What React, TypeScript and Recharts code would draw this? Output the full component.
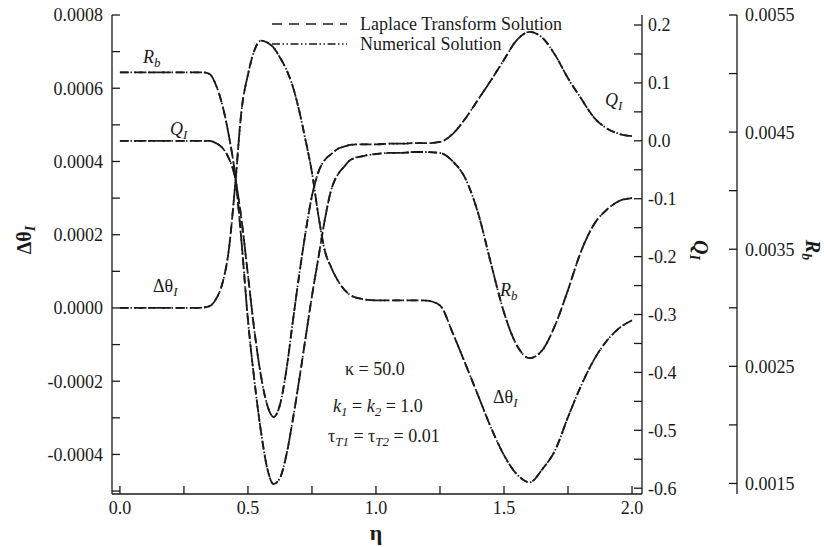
import { LineChart, Line, XAxis, YAxis } from 'recharts';

// eta grid (shared by all curves)
const eta = [
  0, 0.1, 0.2, 0.3, 0.325, 0.35, 0.375, 0.4, 0.425, 0.45, 0.475, 0.5, 0.525, 0.55, 0.575, 0.6,
  0.625, 0.65, 0.675, 0.7, 0.725, 0.75, 0.775, 0.8, 0.825, 0.85, 0.875, 0.9, 0.95, 1.0, 1.05,
  1.1, 1.15, 1.2, 1.25, 1.3, 1.35, 1.4, 1.45, 1.5, 1.55, 1.6, 1.65, 1.7, 1.75, 1.8, 1.85, 1.9,
  1.95, 2.0,
];

// Δθ_I (left axis)
const deltaTheta = [
  0, 0, 0, 0, 0.000001, 0.000005, 0.000024, 0.000067, 0.000157, 0.000335, 0.00054, 0.000637,
  0.000703, 0.00073, 0.000725, 0.000711, 0.000684, 0.000651, 0.000605, 0.000539, 0.000458,
  0.00037, 0.000253, 0.000157, 0.000111, 0.000076, 0.000051, 0.000035, 0.000024, 0.000021,
  0.000021, 0.000021, 0.000021, 0.00002, 0.000007, -0.000069, -0.000154, -0.000241, -0.000328,
  -0.000402, -0.000454, -0.000476, -0.00044, -0.000388, -0.000298, -0.000214, -0.000143,
  -0.000091, -0.000055, -0.000034,
];

// Q_I (first right axis)
const heatFlux = [
  0, 0, 0, 0, 0, 0, -0.004, -0.012, -0.03, -0.064, -0.137, -0.232, -0.327, -0.404, -0.456,
  -0.477, -0.456, -0.396, -0.313, -0.232, -0.158, -0.095, -0.054, -0.033, -0.023, -0.014, -0.01,
  -0.007, -0.006, -0.006, -0.005, -0.005, -0.004, -0.004, -0.002, 0.012, 0.039, 0.072, 0.105,
  0.14, 0.174, 0.188, 0.178, 0.148, 0.108, 0.074, 0.041, 0.022, 0.012, 0.008,
];

// R_b (second right axis)
const rBond = [
  0.00501, 0.00501, 0.00501, 0.00501, 0.00501, 0.004996, 0.004902, 0.004731, 0.004475, 0.00413,
  0.00356, 0.002896, 0.002383, 0.001956, 0.001632, 0.001495, 0.001546, 0.001743, 0.002042,
  0.002383, 0.002742, 0.003101, 0.003425, 0.00375, 0.004006, 0.004134, 0.004202, 0.004262,
  0.004296, 0.004313, 0.004322, 0.004322, 0.00433, 0.00433, 0.004322, 0.00425, 0.0041, 0.0038,
  0.00337, 0.00296, 0.00268, 0.00257, 0.002639, 0.002853, 0.003152, 0.003476, 0.003707, 0.003835,
  0.003912, 0.003937,
];

const etaMajor = [0, 0.5, 1.0, 1.5, 2.0];
const etaMinor = [0.25, 0.75, 1.25, 1.75];
const dtMajor = [-0.0004, -0.0002, 0, 0.0002, 0.0004, 0.0006, 0.0008];
const dtMinor = [-0.0005, -0.0003, -0.0001, 0.0001, 0.0003, 0.0005, 0.0007];
const qMajor = [-0.6, -0.5, -0.4, -0.3, -0.2, -0.1, 0, 0.1, 0.2];
const qMinor = [-0.55, -0.45, -0.35, -0.25, -0.15, -0.05, 0.05, 0.15];
const rbMajor = [0.0015, 0.0025, 0.0035, 0.0045, 0.0055];
const rbMinor = [0.002, 0.003, 0.004, 0.005];

const data = eta.map((e, i) => ({
  eta: e,
  dt: deltaTheta[i],
  q: heatFlux[i],
  rb: rBond[i],
}));

const FONT = '"Liberation Serif", "DejaVu Serif", serif';
const INK = '#1a1a1a';
const FS = 18;
const DASHED = '9 5';
const DASH_DOT_DOT = '8 2.5 1.5 2.5 1.5 2.5';

const makeTick = (majors: number[], digits: number, anchor: string, dy: string) => (props: any) => {
  const { x, y, payload } = props;
  const isMajor = majors.some((m) => Math.abs(m - payload.value) < 1e-9);
  if (!isMajor) return <g />;
  return (
    <text x={x} y={y} dy={dy} textAnchor={anchor} fontFamily={FONT} fontSize={FS} fill={INK}>
      {Number(payload.value).toFixed(digits)}
    </text>
  );
};

const Sub = ({ children }: { children: string }) => (
  <>
    <tspan dy={4} fontSize={13} fontStyle="italic">{children}</tspan>
    <tspan dy={-4}> </tspan>
  </>
);

function Overlay() {
  return (
    <svg
      width={824}
      height={547}
      style={{ position: 'absolute', left: 0, top: 0, pointerEvents: 'none' }}
      fontFamily={FONT}
      fill={INK}
    >
      {/* legend */}
      <line x1={272} y1={24} x2={347} y2={24} stroke={INK} strokeWidth={1.4} strokeDasharray="10 7" />
      <line x1={272} y1={44} x2={347} y2={44} stroke={INK} strokeWidth={1.4} strokeDasharray={DASH_DOT_DOT} />
      <text x={360} y={30} fontSize={FS}>Laplace Transform Solution</text>
      <text x={360} y={50} fontSize={FS}>Numerical Solution</text>

      {/* curve labels */}
      <text x={143} y={63} fontSize={FS} fontStyle="italic">R<Sub>b</Sub></text>
      <text x={170} y={135} fontSize={FS} fontStyle="italic">Q<Sub>I</Sub></text>
      <text x={153} y={292} fontSize={FS}>Δθ<Sub>I</Sub></text>
      <text x={500} y={296} fontSize={FS} fontStyle="italic">R<Sub>b</Sub></text>
      <text x={493} y={403} fontSize={FS}>Δθ<Sub>I</Sub></text>
      <text x={605} y={106} fontSize={FS} fontStyle="italic">Q<Sub>I</Sub></text>

      {/* parameters */}
      <text x={345} y={375} fontSize={FS}>κ = 50.0</text>
      <text x={333} y={412} fontSize={FS}>
        <tspan fontStyle="italic">k</tspan><Sub>1</Sub>= <tspan fontStyle="italic">k</tspan><Sub>2</Sub>= 1.0
      </text>
      <text x={328} y={442} fontSize={FS}>
        τ<Sub>T1</Sub>= τ<Sub>T2</Sub>= 0.01
      </text>

      {/* axis titles */}
      <text transform="translate(31,240) rotate(-90)" textAnchor="middle" fontSize={20} fontWeight="bold">
        Δθ<tspan dy={4} fontSize={14} fontStyle="italic">I</tspan>
      </text>
      <text x={376} y={540} textAnchor="middle" fontSize={22} fontWeight="bold">η</text>
      <text transform="translate(694,250) rotate(90)" textAnchor="middle" fontSize={20} fontWeight="bold" fontStyle="italic">
        Q<tspan dy={4} fontSize={14}>I</tspan>
      </text>
      <text transform="translate(806,250) rotate(90)" textAnchor="middle" fontSize={20} fontWeight="bold" fontStyle="italic">
        R<tspan dy={4} fontSize={14}>b</tspan>
      </text>
    </svg>
  );
}

export default function App() {
  const series = [
    { id: 'dt', key: 'dt' },
    { id: 'q', key: 'q' },
    { id: 'rb', key: 'rb' },
  ];
  return (
    <div style={{ position: 'absolute', left: 0, top: 0, width: 824, height: 547, background: '#fff' }}>
      <LineChart width={824} height={547} data={data} margin={{ top: 15, right: 0, bottom: 13, left: 0 }}>
        <XAxis
          dataKey="eta"
          type="number"
          domain={[-0.031, 2.039]}
          allowDataOverflow
          ticks={[...etaMajor, ...etaMinor]}
          interval={0}
          height={40}
          tickSize={-8}
          tickMargin={15}
          tick={makeTick(etaMajor, 1, 'middle', '0.71em')}
          stroke={INK}
          strokeWidth={1.3}
        />
        <XAxis
          xAxisId="top"
          orientation="top"
          type="number"
          domain={[-0.031, 2.039]}
          height={0}
          tick={false}
          tickLine={false}
          stroke={INK}
          strokeWidth={1.3}
        />
        <YAxis
          yAxisId="dt"
          orientation="left"
          type="number"
          width={112}
          domain={[-0.000508, 0.0008]}
          allowDataOverflow
          ticks={[...dtMajor, ...dtMinor]}
          interval={0}
          tickSize={-8}
          tickMargin={17}
          tick={makeTick(dtMajor, 4, 'end', '0.355em')}
          stroke={INK}
          strokeWidth={1.3}
        />
        <YAxis
          yAxisId="q"
          orientation="right"
          type="number"
          width={95}
          domain={[-0.61, 0.2173]}
          allowDataOverflow
          ticks={[...qMajor, ...qMinor]}
          interval={0}
          tickSize={-8}
          tickMargin={14}
          tick={makeTick(qMajor, 1, 'start', '0.355em')}
          stroke={INK}
          strokeWidth={1.3}
        />
        <YAxis
          yAxisId="rb"
          orientation="right"
          type="number"
          width={87}
          domain={[0.00141, 0.0055]}
          allowDataOverflow
          ticks={[...rbMajor, ...rbMinor]}
          interval={0}
          tickSize={-8}
          tickMargin={16}
          tick={makeTick(rbMajor, 4, 'start', '0.355em')}
          stroke={INK}
          strokeWidth={1.3}
        />
        {series.map((s) => (
          <Line
            key={`${s.key}-laplace`}
            yAxisId={s.id}
            dataKey={s.key}
            type="monotone"
            stroke={INK}
            strokeWidth={1.8}
            strokeDasharray={DASHED}
            dot={false}
            activeDot={false}
            isAnimationActive={false}
          />
        ))}
        {series.map((s) => (
          <Line
            key={`${s.key}-numerical`}
            yAxisId={s.id}
            dataKey={s.key}
            type="monotone"
            stroke={INK}
            strokeWidth={1.8}
            strokeDasharray={DASH_DOT_DOT}
            dot={false}
            activeDot={false}
            isAnimationActive={false}
          />
        ))}
      </LineChart>
      <Overlay />
    </div>
  );
}
